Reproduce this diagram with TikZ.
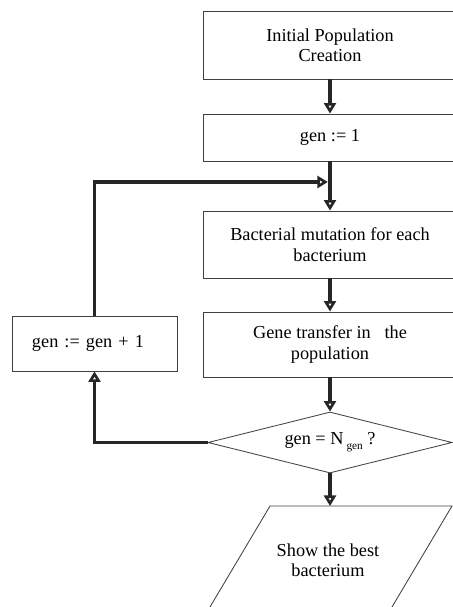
\documentclass[tikz,border=0pt]{standalone}
\usepackage{fontspec}
\setmainfont{Liberation Serif}
\usetikzlibrary{shapes.geometric, arrows.meta, positioning, calc}

\begin{document}
\begin{tikzpicture}[
    process box/.style={
        rectangle,
        draw=black!75,
        line width=0.6pt,
        minimum width=6.35cm,
        align=center,
        font=\fontsize{13pt}{14.5pt}\selectfont,
    },
    decision/.style={
        diamond,
        draw=black!75,
        line width=0.6pt,
        shape aspect=4,
        inner sep=0pt,
        minimum width=6.1cm,
        minimum height=1.525cm,
        font=\fontsize{13pt}{14.5pt}\selectfont,
    },
    flow arrow/.style={
        draw=black!85,
        line width=2.2pt,
        -{Triangle[open, length=7.5pt, width=8.5pt]},
    }
]
\useasboundingbox (0,0) rectangle (11.325,-15.175);
\clip (0,0) rectangle (11.325,-15.175);

\node[process box, minimum height=1.7cm] (init) at (8.25,-1.125) {Initial Population\\Creation};
\node[process box, minimum height=1.175cm] (gen one) at (8.25,-3.4375) {gen := 1};
\node[process box, minimum height=1.675cm] (mutation) at (8.25,-6.1125) {Bacterial mutation for each\\bacterium};
\node[process box, minimum height=1.625cm] (transfer) at (8.25,-8.6125) {Gene transfer in \ \ the\\population};
\node[decision] (check) at (8.25,-11.0625) {gen = N\,\raisebox{-0.6ex}{\footnotesize gen} ?};
\node[process box, minimum width=4.125cm, minimum height=1.375cm,
      text width=3.125cm, inner xsep=0.5cm, align=left] (next gen) at (2.3625,-8.5875) {gen := gen + 1};

% output parallelogram
\draw[draw=black!75, line width=0.6pt] (6.75,-12.65) -- (11.3,-12.65) -- (9.755,-15.25) -- (5.205,-15.25) -- cycle;
\coordinate (show top) at (8.25,-12.65);
\node[align=center, font=\fontsize{13pt}{14.5pt}\selectfont] (show) at (8.2,-14.0) {Show the best\\bacterium};

\coordinate (join) at (8.25,-4.55);

\draw[flow arrow] (init) -- (gen one);
\draw[flow arrow] (gen one) -- (mutation);
\draw[flow arrow] (mutation) -- (transfer);
\draw[flow arrow] (transfer) -- (check);
\draw[flow arrow] (check) -- (show top);
\draw[flow arrow] (check.west) -| (next gen.south);
\draw[flow arrow, shorten >=1.5pt] (next gen.north) |- (join);
\end{tikzpicture}
\end{document}
